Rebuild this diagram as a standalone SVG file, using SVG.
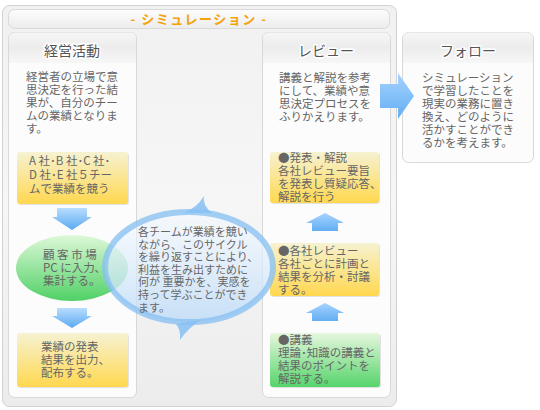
<svg xmlns="http://www.w3.org/2000/svg" width="540" height="410" viewBox="0 0 540 410">
<style>
.t{font-family:"Noto Sans CJK JP","Noto Sans CJK SC",sans-serif;font-size:11.5px;fill:#666}
.m{font-family:"Noto Sans CJK JP","Noto Sans CJK SC",sans-serif;font-size:11px;fill:#666}
.h{font-family:"Noto Sans CJK JP","Noto Sans CJK SC",sans-serif;font-size:14px;fill:#555;text-anchor:middle;stroke:#fff;stroke-width:3px;paint-order:stroke;stroke-linejoin:round}
.ttl{font-family:"Noto Sans CJK JP","Noto Sans CJK SC",sans-serif;font-size:13px;font-weight:bold;fill:#f3a20c;text-anchor:middle;letter-spacing:1.5px}
.col{fill:#fcfcfc;stroke:#d8d8d8;stroke-width:1}
.sh{fill:#000;opacity:0.1}
</style>
<defs>
<linearGradient id="gOuter" x1="0" y1="0" x2="0" y2="1"><stop offset="0" stop-color="#f1f1f1"/><stop offset="0.5" stop-color="#f6f6f6"/><stop offset="1" stop-color="#ececec"/></linearGradient>
<linearGradient id="gBar" x1="0" y1="0" x2="0" y2="1"><stop offset="0" stop-color="#fdfdfd"/><stop offset="1" stop-color="#ececec"/></linearGradient>
<linearGradient id="gHead" x1="0" y1="0" x2="0" y2="1"><stop offset="0" stop-color="#f6f6f6"/><stop offset="0.5" stop-color="#ececec"/><stop offset="1" stop-color="#f7f7f7"/></linearGradient>
<linearGradient id="gYel" x1="0" y1="0" x2="0" y2="1"><stop offset="0" stop-color="#f6f2d2"/><stop offset="1" stop-color="#ffd84f"/></linearGradient>
<linearGradient id="gGrn" x1="0" y1="0" x2="0" y2="1"><stop offset="0" stop-color="#e6f7de"/><stop offset="1" stop-color="#55d46a"/></linearGradient>
<linearGradient id="gGrnE" x1="0" y1="0" x2="0" y2="1"><stop offset="0" stop-color="#def8d8"/><stop offset="1" stop-color="#50d066"/></linearGradient>
<linearGradient id="gArr" x1="0" y1="0" x2="0" y2="1"><stop offset="0" stop-color="#b8ddff"/><stop offset="1" stop-color="#5aa9f0"/></linearGradient>
<linearGradient id="gArrUp" x1="0" y1="0" x2="0" y2="1"><stop offset="0" stop-color="#a6d3ff"/><stop offset="1" stop-color="#62aef2"/></linearGradient>
<linearGradient id="gCyc" x1="0" y1="0" x2="0" y2="1"><stop offset="0" stop-color="#f5faff" stop-opacity="0.6"/><stop offset="1" stop-color="#bfdcf8" stop-opacity="0.85"/></linearGradient>
</defs>

<g id="frame">
<rect x="2.5" y="5.5" width="394" height="401" rx="7" fill="url(#gOuter)" stroke="#d2d2d2"/>
<rect x="8.5" y="9.5" width="381" height="19" rx="6" fill="url(#gBar)" stroke="#dadada"/>
<text class="ttl" x="199" y="23.5">- シミュレーション -</text>
</g>

<g id="col-keiei">
<rect class="col" x="8.5" y="32.5" width="128" height="365" rx="6"/>
<path d="M9 63 V38.5 a6 6 0 0 1 6 -6 H130 a6 6 0 0 1 6 6 V63 Z" fill="url(#gHead)"/>
<text class="h" x="72" y="56">経営活動</text>
<text class="t" x="26" y="81">経営者の立場で意</text>
<text class="t" x="26" y="94">思決定を行った結</text>
<text class="t" x="26" y="107">果が、自分のチー</text>
<text class="t" x="26" y="120">ムの業績となりま</text>
<text class="t" x="26" y="133">す。</text>
</g>

<g id="col-review">
<rect class="col" x="262.5" y="32.5" width="128" height="365" rx="6"/>
<path d="M263 63 V38.5 a6 6 0 0 1 6 -6 H384 a6 6 0 0 1 6 6 V63 Z" fill="url(#gHead)"/>
<text class="h" x="326" y="56">レビュー</text>
<text class="t" x="279" y="81.5">講義と解説を参考</text>
<text class="t" x="279" y="94.5">にして、業績や意</text>
<text class="t" x="279" y="107.5">思決定プロセスを</text>
<text class="t" x="279" y="120.5">ふりかえります。</text>
</g>

<g id="follow">
<rect class="col" x="402.5" y="32.5" width="131" height="130" rx="6" fill="#f7f7f7"/>
<path d="M403 63 V38.5 a6 6 0 0 1 6 -6 H527 a6 6 0 0 1 6 6 V63 Z" fill="url(#gHead)"/>
<text class="h" x="468" y="56">フォロー</text>
<text class="t" x="422" y="81.5">シミュレーション</text>
<text class="t" x="422" y="94.5">で学習したことを</text>
<text class="t" x="422" y="107.5">現実の業務に置き</text>
<text class="t" x="422" y="120.5">換え、どのように</text>
<text class="t" x="422" y="133.5">活かすことができ</text>
<text class="t" x="422" y="146.5">るかを考えます。</text>
</g>

<g id="compete">
<rect class="sh" x="18" y="153" width="111" height="52" rx="3"/>
<rect x="17" y="152" width="111" height="52" rx="3" fill="url(#gYel)"/>
<text class="t" x="29" y="164.5">A 社･B 社･C 社･</text>
<text class="t" x="29" y="178.5">D 社･E 社５チー</text>
<text class="t" x="29" y="192.5">ムで業績を競う</text>
</g>

<g id="input">
<ellipse cx="72" cy="268" rx="56" ry="33" fill="url(#gGrnE)"/>
<text class="t" x="43" y="259">顧 客 市 場</text>
<text class="t" x="43" y="272">PC に入力､</text>
<text class="t" x="43" y="285">集計する。</text>
</g>

<g id="publish">
<rect class="sh" x="18" y="334" width="111" height="54" rx="3"/>
<rect x="17" y="333" width="111" height="54" rx="3" fill="url(#gYel)"/>
<text class="t" x="41" y="351">業績の発表</text>
<text class="t" x="41" y="364">結果を出力、</text>
<text class="t" x="41" y="377">配布する。</text>
</g>

<g id="present">
<rect class="sh" x="271" y="153" width="109" height="51" rx="3"/>
<rect x="270" y="152" width="109" height="51" rx="3" fill="url(#gYel)"/>
<text class="t" x="278" y="161.5">●発表・解説</text>
<text class="t" x="278" y="174.5">各社レビュー要旨</text>
<text class="t" x="278" y="187.5">を発表し質疑応答、</text>
<text class="t" x="278" y="200.5">解説を行う</text>
</g>

<g id="company-review">
<rect class="sh" x="271" y="244" width="109" height="53" rx="3"/>
<rect x="270" y="243" width="109" height="53" rx="3" fill="url(#gYel)"/>
<text class="t" x="278" y="254.5">●各社レビュー</text>
<text class="t" x="278" y="267.5">各社ごとに計画と</text>
<text class="t" x="278" y="280.5">結果を分析・討議</text>
<text class="t" x="278" y="293.5">する。</text>
</g>

<g id="lecture">
<rect class="sh" x="271" y="334" width="110" height="54" rx="3"/>
<rect x="270" y="333" width="110" height="54" rx="3" fill="url(#gGrn)"/>
<text class="t" x="278" y="344">●講義</text>
<text class="t" x="278" y="357">理論･知識の講義と</text>
<text class="t" x="278" y="370">結果のポイントを</text>
<text class="t" x="278" y="383">解説する。</text>
</g>

<g id="connectors">
<path d="M57 208 H87 V217 H92 L72 230 L52 217 H57 Z" fill="url(#gArr)"/>
<path d="M57 308 H87 V316 H92 L72 328 L52 316 H57 Z" fill="url(#gArr)"/>
<path d="M325 213 L344 223 H338 V231 H312 V223 H306 Z" fill="url(#gArrUp)"/>
<path d="M325 303 L344 313 H338 V321 H312 V313 H306 Z" fill="url(#gArrUp)"/>
<path d="M380 84 H398 V73 L414 96 L398 119 V108 H380 Z" fill="url(#gArrUp)"/>
</g>

<g id="cycle">
<ellipse cx="189" cy="267" rx="84" ry="55" fill="url(#gCyc)" stroke="#86bff2" stroke-opacity="0.75" stroke-width="6"/>
<path d="M183 213 Q197 208 204 196 Q202 205 212 213 Z" fill="#86bff2" fill-opacity="0.85"/>
<path d="M176 324 Q181 330 180 340 Q188 328 201 320 Z" fill="#86bff2" fill-opacity="0.85"/>
<text class="m" x="138" y="236">各チームが業績を競い</text>
<text class="m" x="138" y="248.6">ながら、このサイクル</text>
<text class="m" x="138" y="261.2">を繰り返すことにより、</text>
<text class="m" x="138" y="273.8">利益を生み出すために</text>
<text class="m" x="138" y="286.4">何が 重要かを、実感を</text>
<text class="m" x="138" y="299">持って学ぶことができ</text>
<text class="m" x="138" y="311.6">ます。</text>
</g>
</svg>
